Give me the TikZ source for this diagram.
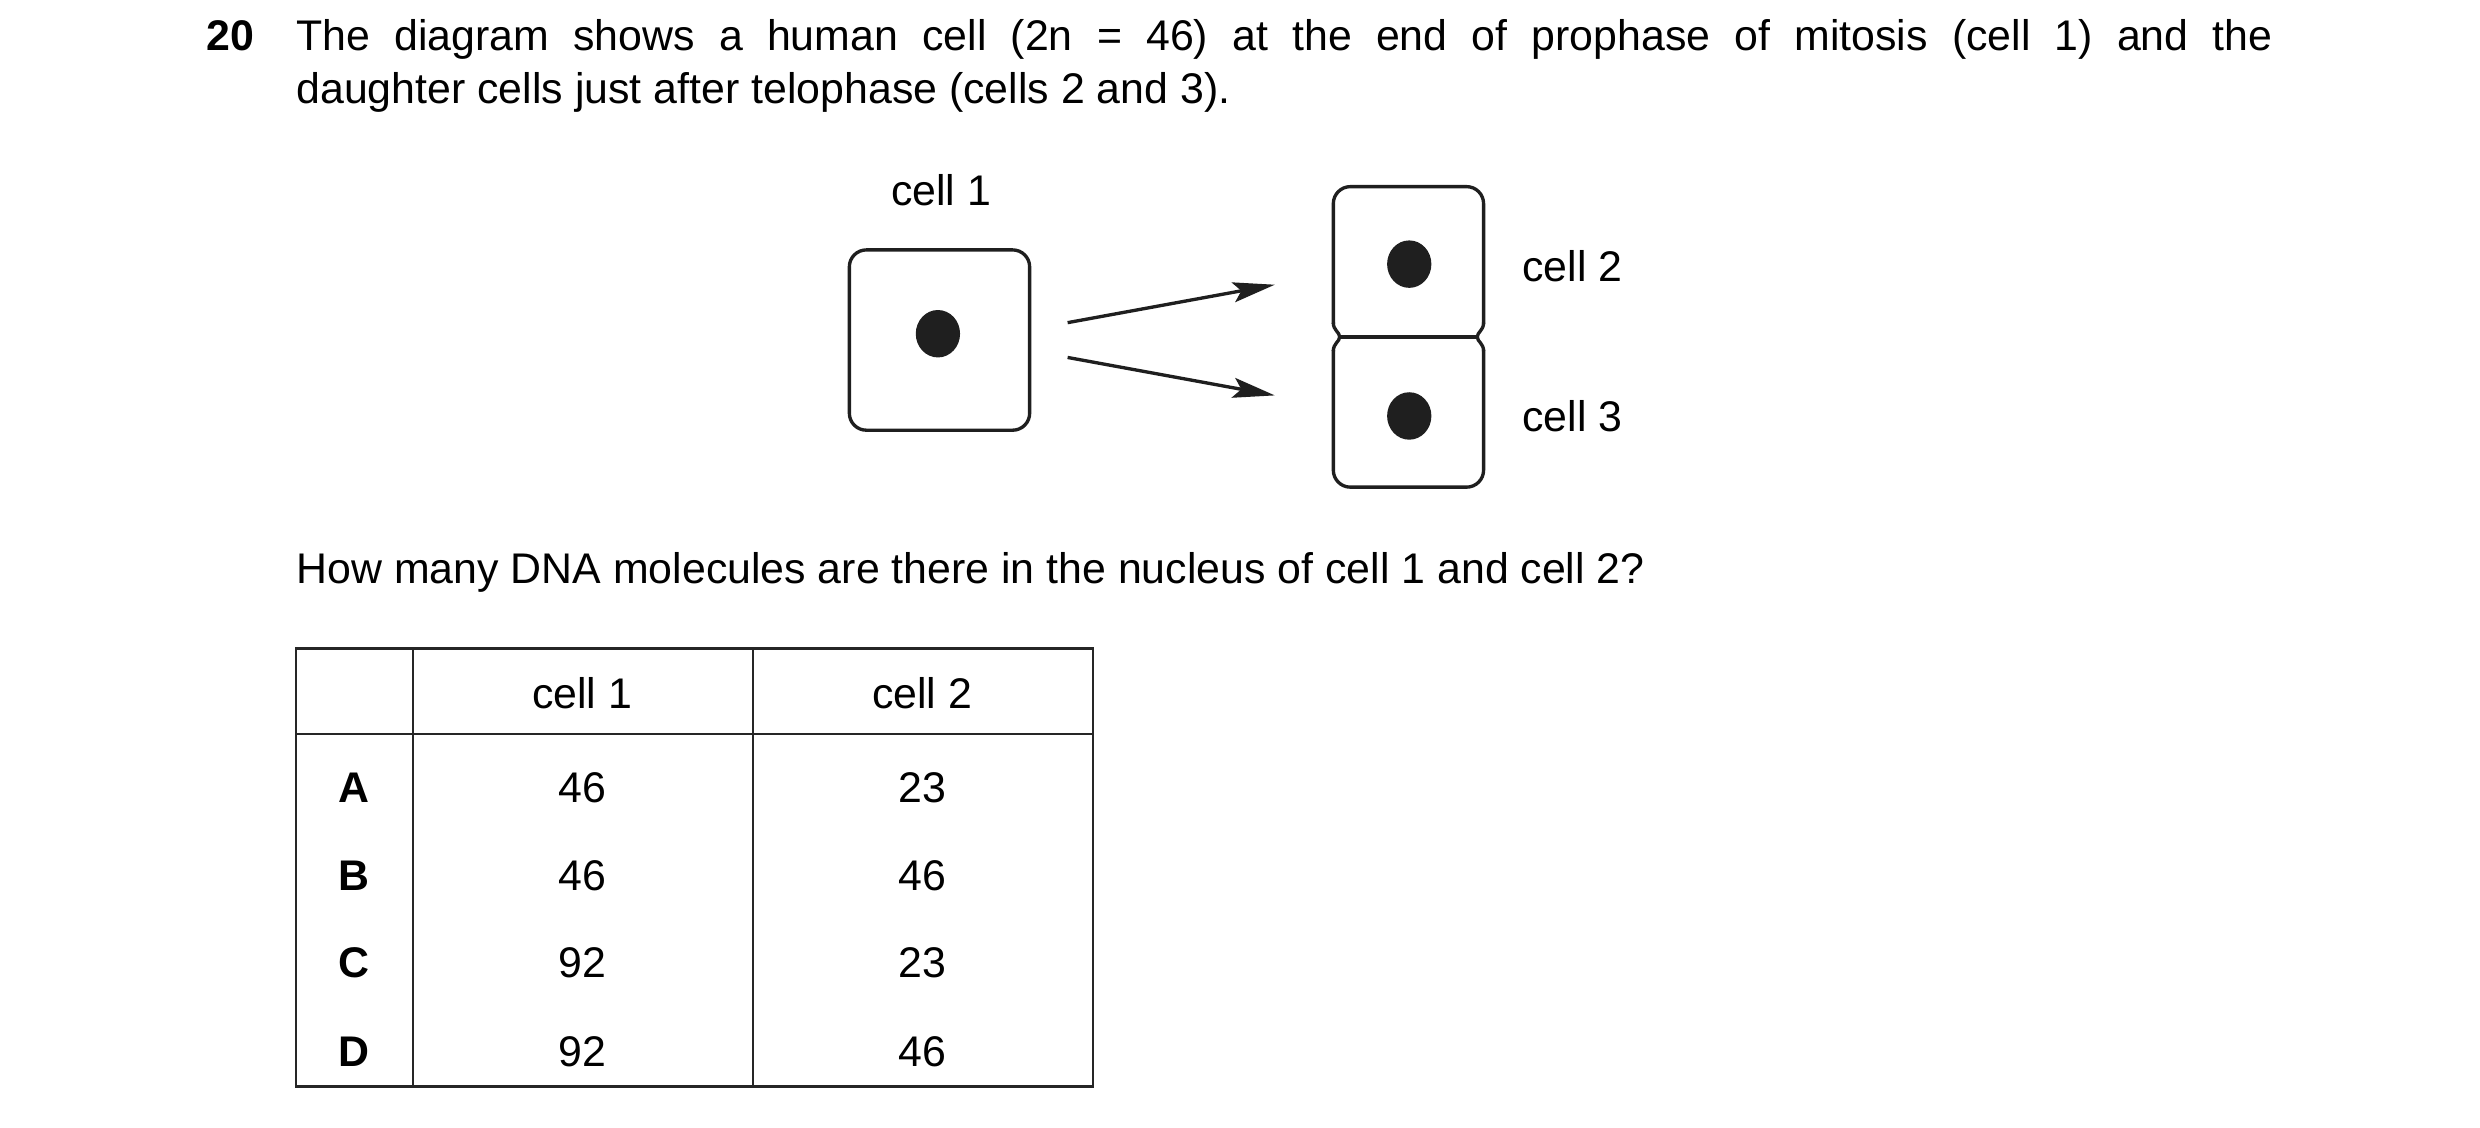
\documentclass[tikz,border=0pt]{standalone}
\usepackage{fontspec}
\setmainfont{Liberation Sans}
\usetikzlibrary{arrows.meta}
\begin{document}
\begin{tikzpicture}[x=0.015816cm,y=-0.015816cm,
  txt/.style={inner sep=0pt,font=\fontsize{12.2}{15}\selectfont},
  ln/.style={line width=0.95pt,black!88},
  nuc/.style={fill=black!88,draw=none},
  arr/.style={ln,-{Stealth[length=0.42cm,width=0.2cm,inset=0.08cm]}},
  tl/.style={line width=0.7pt,black!85}]
\useasboundingbox (0,0) rectangle (1568,712.6);
% heading
\node[txt,font=\fontsize{12.2}{15}\selectfont\bfseries,anchor=base west] (num) at (130,32) {20};
\node[txt,anchor=base west,text width=19.77cm,align=justify] (q1) at (187,32)
 {The diagram shows a human cell (2n = 46) at the end of prophase of mitosis (cell~1) and the\linebreak daughter cells just after telophase (cells 2 and 3).};
% cell 1
\draw[ln,rounded corners=0.17cm] (537,158) rectangle (651,272);
\node[txt] (c1) at (595,120) {cell 1};
\fill[nuc] (593,211) ellipse [x radius=14,y radius=15];
\coordinate (a1) at (675,204); \coordinate (b1) at (806,180);
\coordinate (a2) at (675,226); \coordinate (b2) at (806,250);
\draw[arr] (a1) -- (b1);
\draw[arr] (a2) -- (b2);
% cells 2 and 3
\draw[ln,rounded corners=0.17cm] (843,205) -- (843,118) -- (938,118) -- (938,205);
\draw[ln] (843,204) .. controls (843,209) and (847,210) .. (847,213) .. controls (847,216) and (843,217) .. (843,222);
\draw[ln] (938,204) .. controls (938,209) and (934,210) .. (934,213) .. controls (934,216) and (938,217) .. (938,222);
\draw[ln,rounded corners=0.17cm] (843,221) -- (843,308) -- (938,308) -- (938,221);
\draw[ln] (847,213) -- (934,213);
\fill[nuc] (891,167) ellipse [x radius=14,y radius=15];
\fill[nuc] (891,263) ellipse [x radius=14,y radius=15];
\node[txt,anchor=west] (c2) at (962,168) {cell 2};
\node[txt,anchor=west] (c3) at (962,263) {cell 3};
% question
\node[txt,anchor=base west] (q2) at (187,369) {How many DNA molecules are there in the nucleus of cell 1 and cell 2?};
% table
\draw[tl] (187,410) rectangle (691,687);
\draw[tl] (187,464) -- (691,464);
\draw[tl] (261,410) -- (261,687);
\draw[tl] (476,410) -- (476,687);
\node[txt] (h1) at (368,438) {cell 1};
\node[txt] (h2) at (583,438) {cell 2};
\foreach \l/\a/\b/\y in {A/46/23/498,B/46/46/554,C/92/23/609,D/92/46/665}{
  \node[txt,font=\fontsize{12.2}{15}\selectfont\bfseries] (r\l) at (224,\y) {\l};
  \node[txt] (x\l) at (368,\y) {\a};
  \node[txt] (y\l) at (583,\y) {\b};
}
\end{tikzpicture}
\end{document}
